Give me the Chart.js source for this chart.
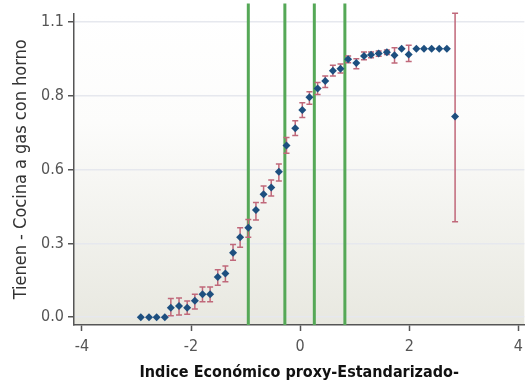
<!DOCTYPE html>
<html><head><meta charset="utf-8">
<script src="https://cdn.jsdelivr.net/npm/chart.js@4"></script>
<style>html,body{margin:0;padding:0;background:#fff}#wrap{width:529px;height:387px}</style>
</head><body><div id="wrap"><canvas id="c" width="529" height="387"></canvas></div>
<script>
const xVals = [-2.92,-2.77,-2.63,-2.48,-2.37,-2.22,-2.07,-1.93,-1.79,-1.65,-1.51,-1.37,-1.23,-1.10,-0.95,-0.81,-0.67,-0.53,-0.39,-0.25,-0.09,0.04,0.17,0.32,0.46,0.60,0.74,0.88,1.03,1.17,1.30,1.44,1.59,1.73,1.86,1.99,2.13,2.27,2.41,2.55,2.69,2.84];
const yVals = [0,0,0,0,0.035,0.042,0.035,0.061,0.086,0.086,0.150,0.163,0.240,0.298,0.333,0.399,0.458,0.483,0.542,0.640,0.704,0.772,0.819,0.852,0.880,0.918,0.926,0.961,0.947,0.973,0.978,0.982,0.987,0.976,1,0.979,1,1,1,1,1,0.748];
const errLow = [0,0,0,0,0.005,0.008,0.011,0.031,0.058,0.058,0.119,0.132,0.212,0.261,0.298,0.362,0.426,0.452,0.507,0.611,0.677,0.744,0.793,0.830,0.856,0.899,0.910,0.948,0.926,0.959,0.967,0.972,0.979,0.947,1,0.953,1,1,1,1,1,0.356];
const errHigh = [0,0,0,0,0.070,0.072,0.060,0.086,0.113,0.113,0.177,0.191,0.271,0.333,0.364,0.427,0.489,0.511,0.571,0.669,0.732,0.799,0.840,0.874,0.899,0.939,0.943,0.973,0.963,0.988,0.988,0.992,0.995,1.004,1,1.013,1,1,1,1,1,1.132];
const cutLines = [-0.95,-0.28,0.26,0.82];
const xTicks = [-4,-2,0,2,4];
const yTicks = [0,0.275,0.55,0.825,1.1];
const yTickLabels = ["0.0","0.3","0.6","0.8","1.1"];
const xTitle = "Indice Económico proxy-Estandarizado-";
const yTitle = "Tienen - Cocina a gas con horno";

const FONT = "'Liberation Sans Narrow','DejaVu Sans Condensed','Roboto',sans-serif";

const bgPlugin = {
  id:'bg',
  beforeDraw(chart){
    const {ctx, chartArea:a} = chart;
    const g = ctx.createLinearGradient(0,a.top,0,a.bottom);
    g.addColorStop(0,'#ffffff');
    g.addColorStop(0.35,'#fcfcfb');
    g.addColorStop(1,'#e8e8e0');
    ctx.save(); ctx.fillStyle=g; ctx.fillRect(a.left,a.top,a.right-a.left,a.bottom-a.top); ctx.restore();
  }
};
const marksPlugin = {
  id:'marks',
  beforeDatasetsDraw(chart){
    const {ctx, chartArea:a, scales:{x,y}} = chart;
    ctx.save();
    ctx.strokeStyle='#55a857'; ctx.lineWidth=3;
    cutLines.forEach(v=>{ const px=x.getPixelForValue(v); ctx.beginPath(); ctx.moveTo(px,a.top-10); ctx.lineTo(px,a.bottom); ctx.stroke(); });
    ctx.strokeStyle='#c0687a'; ctx.lineWidth=1.5;
    xVals.forEach((xv,i)=>{
      if (errHigh[i]===errLow[i]) return;
      const px=x.getPixelForValue(xv), p1=y.getPixelForValue(errLow[i]), p2=y.getPixelForValue(errHigh[i]);
      ctx.beginPath(); ctx.moveTo(px,p1); ctx.lineTo(px,p2);
      ctx.moveTo(px-3,p1); ctx.lineTo(px+3,p1); ctx.moveTo(px-3,p2); ctx.lineTo(px+3,p2); ctx.stroke();
    });
    ctx.restore();
  }
};

new Chart(document.getElementById('c'), {
  type:'scatter',
  data:{datasets:[{data:xVals.map((v,i)=>({x:v,y:yVals[i]})), pointStyle:'rectRot', pointRadius:4, backgroundColor:'#1d4f7f', borderColor:'#1d4f7f', borderWidth:0}]},
  options:{
    responsive:false, animation:false, clip:false,
    layout:{padding:{top:12,right:0,left:0,bottom:0}},
    plugins:{legend:{display:false}, tooltip:{enabled:false}},
    scales:{
      x:{type:'linear', min:-4.145, max:4.11,
        afterBuildTicks(s){ s.ticks = xTicks.map(v=>({value:v})); },
        afterFit(s){ s.height = 62; },
        grid:{drawOnChartArea:false, drawTicks:true, tickLength:6, tickColor:'#555', tickWidth:1.5},
        border:{color:'#555', width:1.5},
        ticks:{color:'#555', font:{family:FONT, size:16}, padding:6, maxRotation:0},
        title:{display:true, text:xTitle, color:'#111', font:{family:FONT, size:16, weight:'bold'}, padding:{top:4,bottom:5}}
      },
      y:{type:'linear', min:-0.029, max:1.131,
        afterBuildTicks(s){ s.ticks = yTicks.map(v=>({value:v})); },
        afterFit(s){ s.width = 74; },
        grid:{color:'#e6e8ee', lineWidth:1.5, drawTicks:true, tickLength:6, tickColor:'#555', tickWidth:1.5},
        border:{color:'#555', width:1.5},
        ticks:{color:'#555', font:{family:FONT, size:16}, padding:4, callback:(v,i)=>yTickLabels[i]},
        title:{display:true, text:yTitle, color:'#333', font:{family:FONT, size:18}, padding:{top:11,bottom:0}}
      }
    }
  },
  plugins:[bgPlugin, marksPlugin]
});
</script></body></html>
